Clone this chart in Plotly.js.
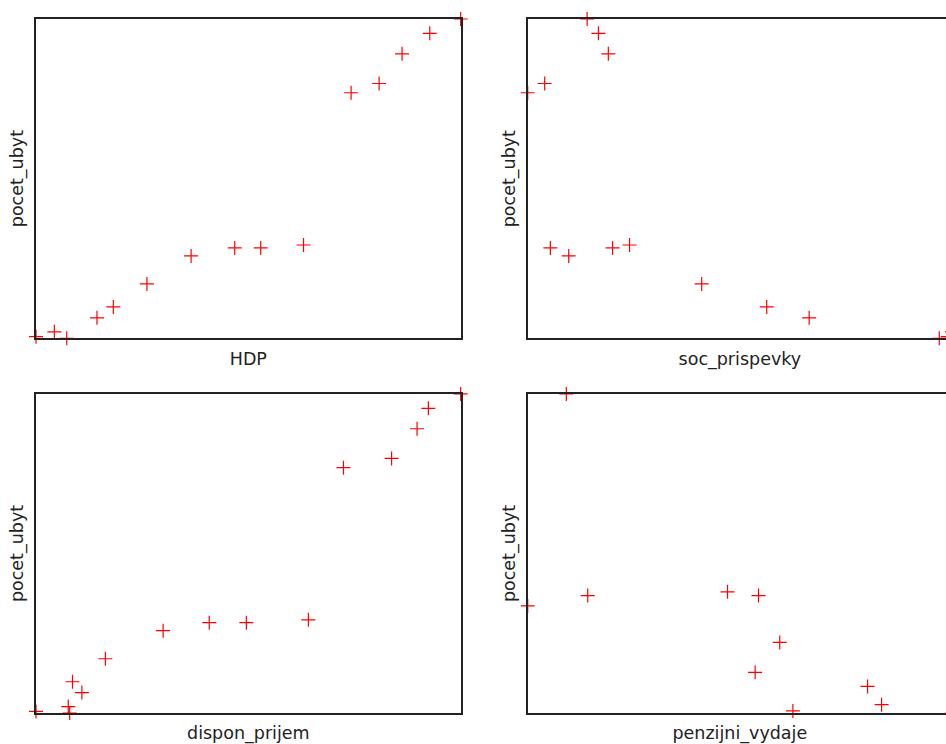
<!DOCTYPE html>
<html>
<head>
<meta charset="utf-8">
<script src="https://cdn.plot.ly/plotly-3.0.1.min.js"></script>
<style>
html,body{margin:0;padding:0;overflow:hidden;background:#fff;}
#chart{width:960px;height:744px;}
</style>
</head>
<body>
<div id="chart"></div>
<script>
// pocet_ubyt and explanatory variables (one row per observation)
const pocet_ubyt = [12050, 12200, 12000, 12640, 12980, 13700, 14580, 14830, 14830, 14920, 19690, 19980, 20910, 21550, 22000];
const HDP = [3000, 3108, 3181, 3359, 3455, 3653, 3913, 4170, 4323, 4575, 4855, 5020, 5155, 5318, 5500];
const soc_prispevky = [797, 800, 791, 699, 669, 623, 529, 516, 560, 572, 500, 512, 557, 550, 542];
const dispon_prijem = [2000, 2114, 2119, 2162, 2129, 2245, 2449, 2612, 2743, 2962, 3086, 3256, 3346, 3386, 3500];
const penzijni_vydaje = [425, 466.8, 500, 460.2, 407.2, 418.8, 300, 328.3, 408.8, 394.2, 318.2, null, null, null, null];

const panels = [
  {name: 'HDP', x: HDP},
  {name: 'soc_prispevky', x: soc_prispevky},
  {name: 'dispon_prijem', x: dispon_prijem},
  {name: 'penzijni_vydaje', x: penzijni_vydaje}
];

const xDomains = [[0, 0.4636], [0.5368, 1], [0, 0.4636], [0.5368, 1]];
const yDomains = [[0.540, 1], [0.540, 1], [0, 0.4597], [0, 0.4597]];

const traces = [];
const layout = {
  width: 960, height: 744,
  margin: {l: 36, r: 8, t: 19, b: 31},
  paper_bgcolor: '#fff', plot_bgcolor: '#fff',
  showlegend: false,
  font: {family: 'DejaVu Sans', size: 17.5, color: '#222'}
};

panels.forEach((p, i) => {
  const xs = [], ys = [];
  p.x.forEach((v, k) => { if (v !== null) { xs.push(v); ys.push(pocet_ubyt[k]); } });
  const n = i + 1;
  const xa = 'x' + (n === 1 ? '' : n), ya = 'y' + (n === 1 ? '' : n);
  traces.push({
    type: 'scatter', mode: 'markers', x: xs, y: ys,
    xaxis: xa, yaxis: ya, cliponaxis: false, hoverinfo: 'x+y',
    marker: {symbol: 'cross-thin', size: 10, color: 'red', line: {color: 'red', width: 1.2}}
  });
  const axBase = {
    showgrid: false, zeroline: false, showticklabels: false, ticks: '',
    showline: true, mirror: true, linecolor: '#222', linewidth: 1.6, automargin: false
  };
  layout['xaxis' + (n === 1 ? '' : n)] = Object.assign({}, axBase, {
    domain: xDomains[i], anchor: ya,
    range: [Math.min(...xs), Math.max(...xs)],
    title: {text: p.name, standoff: 14, font: {family: 'DejaVu Sans', size: 17.5, color: '#222'}}
  });
  layout['yaxis' + (n === 1 ? '' : n)] = Object.assign({}, axBase, {
    domain: yDomains[i], anchor: xa,
    range: [Math.min(...ys), Math.max(...ys)],
    title: {text: 'pocet_ubyt', standoff: 6, font: {family: 'DejaVu Sans', size: 17.5, color: '#222'}}
  });
});

Plotly.newPlot('chart', traces, layout, {displayModeBar: false});
</script>
</body>
</html>
